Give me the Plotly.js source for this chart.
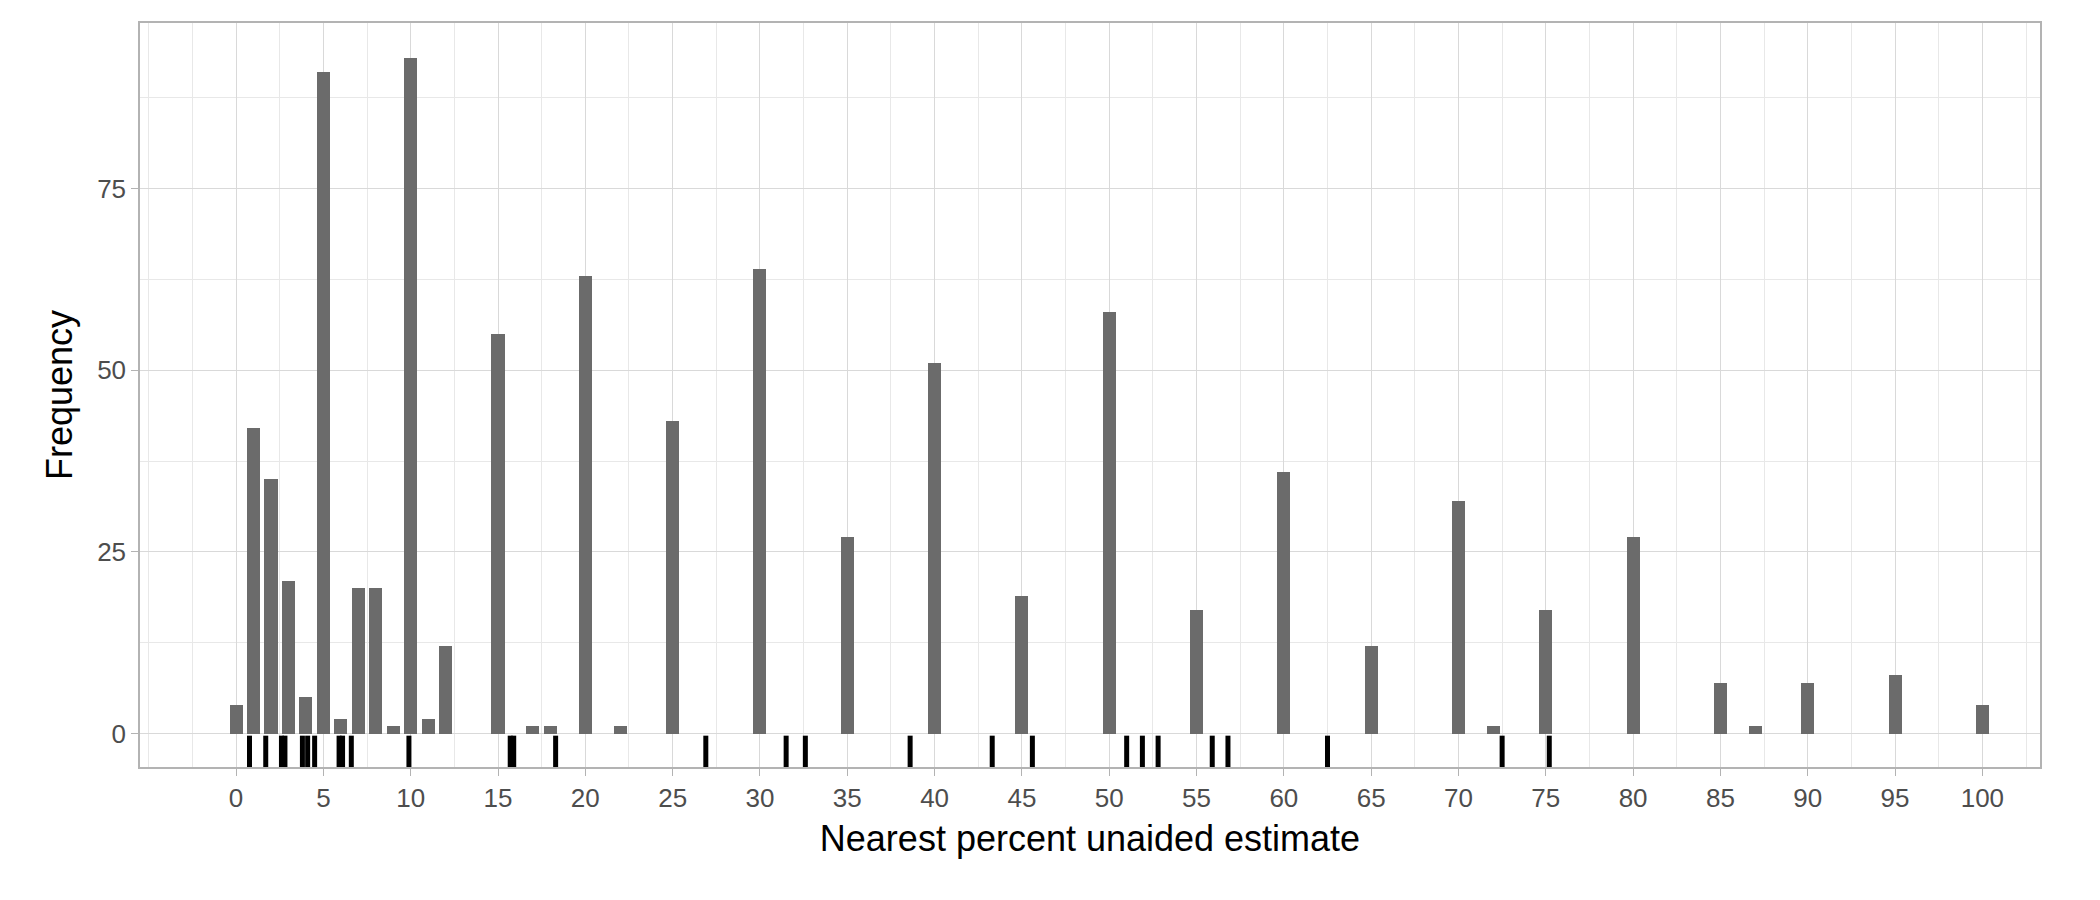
<!DOCTYPE html>
<html><head><script src="https://cdn.plot.ly/plotly-3.0.1.min.js"></script>
<style>body{margin:0}#c{width:2100px;height:900px}</style></head>
<body><div id="c"></div><script>
const estimates=[0,1,2,3,4,5,6,7,8,9,10,11,12,15,17,18,20,22,25,30,35,40,45,50,55,60,65,70,72,75,80,85,87,90,95,100];
const frequency=[4,42,35,21,5,91,2,20,20,1,93,2,12,55,1,1,63,1,43,64,27,51,19,58,17,36,12,32,1,17,27,7,1,7,8,4];
const rugValues=[0.77,1.7,2.6,2.8,3.8,4.1,4.5,5.9,6.1,6.6,9.9,15.7,15.9,18.3,26.9,31.5,32.6,38.6,43.3,45.6,51.0,51.9,52.8,55.9,56.8,62.5,72.5,75.2];
const tickVals=[0,5,10,15,20,25,30,35,40,45,50,55,60,65,70,75,80,85,90,95,100];
const rugY=rugValues.map(()=>-2.6);
const grey='#b3b3b3';
Plotly.newPlot('c',[
 {type:'bar',x:estimates,y:frequency,width:0.75,marker:{color:'#6b6b6b'},hoverinfo:'x+y'},
 {type:'scatter',mode:'markers',x:rugValues,y:rugY,marker:{symbol:'line-ns',size:24,line:{width:5,color:'#000'}}}
],{
 width:2100,height:900,showlegend:false,bargap:0,
 paper_bgcolor:'#fff',plot_bgcolor:'#fff',
 margin:{l:140,r:60,t:23,b:133},
 font:{family:'Liberation Sans, Arial, sans-serif',color:'#4d4d4d'},
 xaxis:{range:[-5.5,103.3],tickvals:tickVals,ticks:'outside',ticklen:7,tickcolor:grey,
   tickfont:{size:26,color:'#4d4d4d'},showgrid:true,gridcolor:'#d9d9d9',gridwidth:1.4,
   minor:{dtick:2.5,tick0:0,showgrid:true,gridcolor:'#e8e8e8',gridwidth:0.8},
   zeroline:false,showline:true,linecolor:grey,linewidth:1.5,mirror:true,
   title:{text:'Nearest percent unaided estimate',font:{size:36,color:'#000'},standoff:14}},
 yaxis:{range:[-4.6,97.8],tickvals:[0,25,50,75],ticks:'outside',ticklen:7,tickcolor:grey,
   tickfont:{size:26,color:'#4d4d4d'},showgrid:true,gridcolor:'#d9d9d9',gridwidth:1.4,
   minor:{tickvals:[12.5,37.5,62.5,87.5],showgrid:true,gridcolor:'#e8e8e8',gridwidth:0.8},
   zeroline:false,showline:true,linecolor:grey,linewidth:1.5,mirror:true,
   title:{text:'Frequency',font:{size:36,color:'#000'},standoff:14}}
},{displayModeBar:false});
</script></body></html>
